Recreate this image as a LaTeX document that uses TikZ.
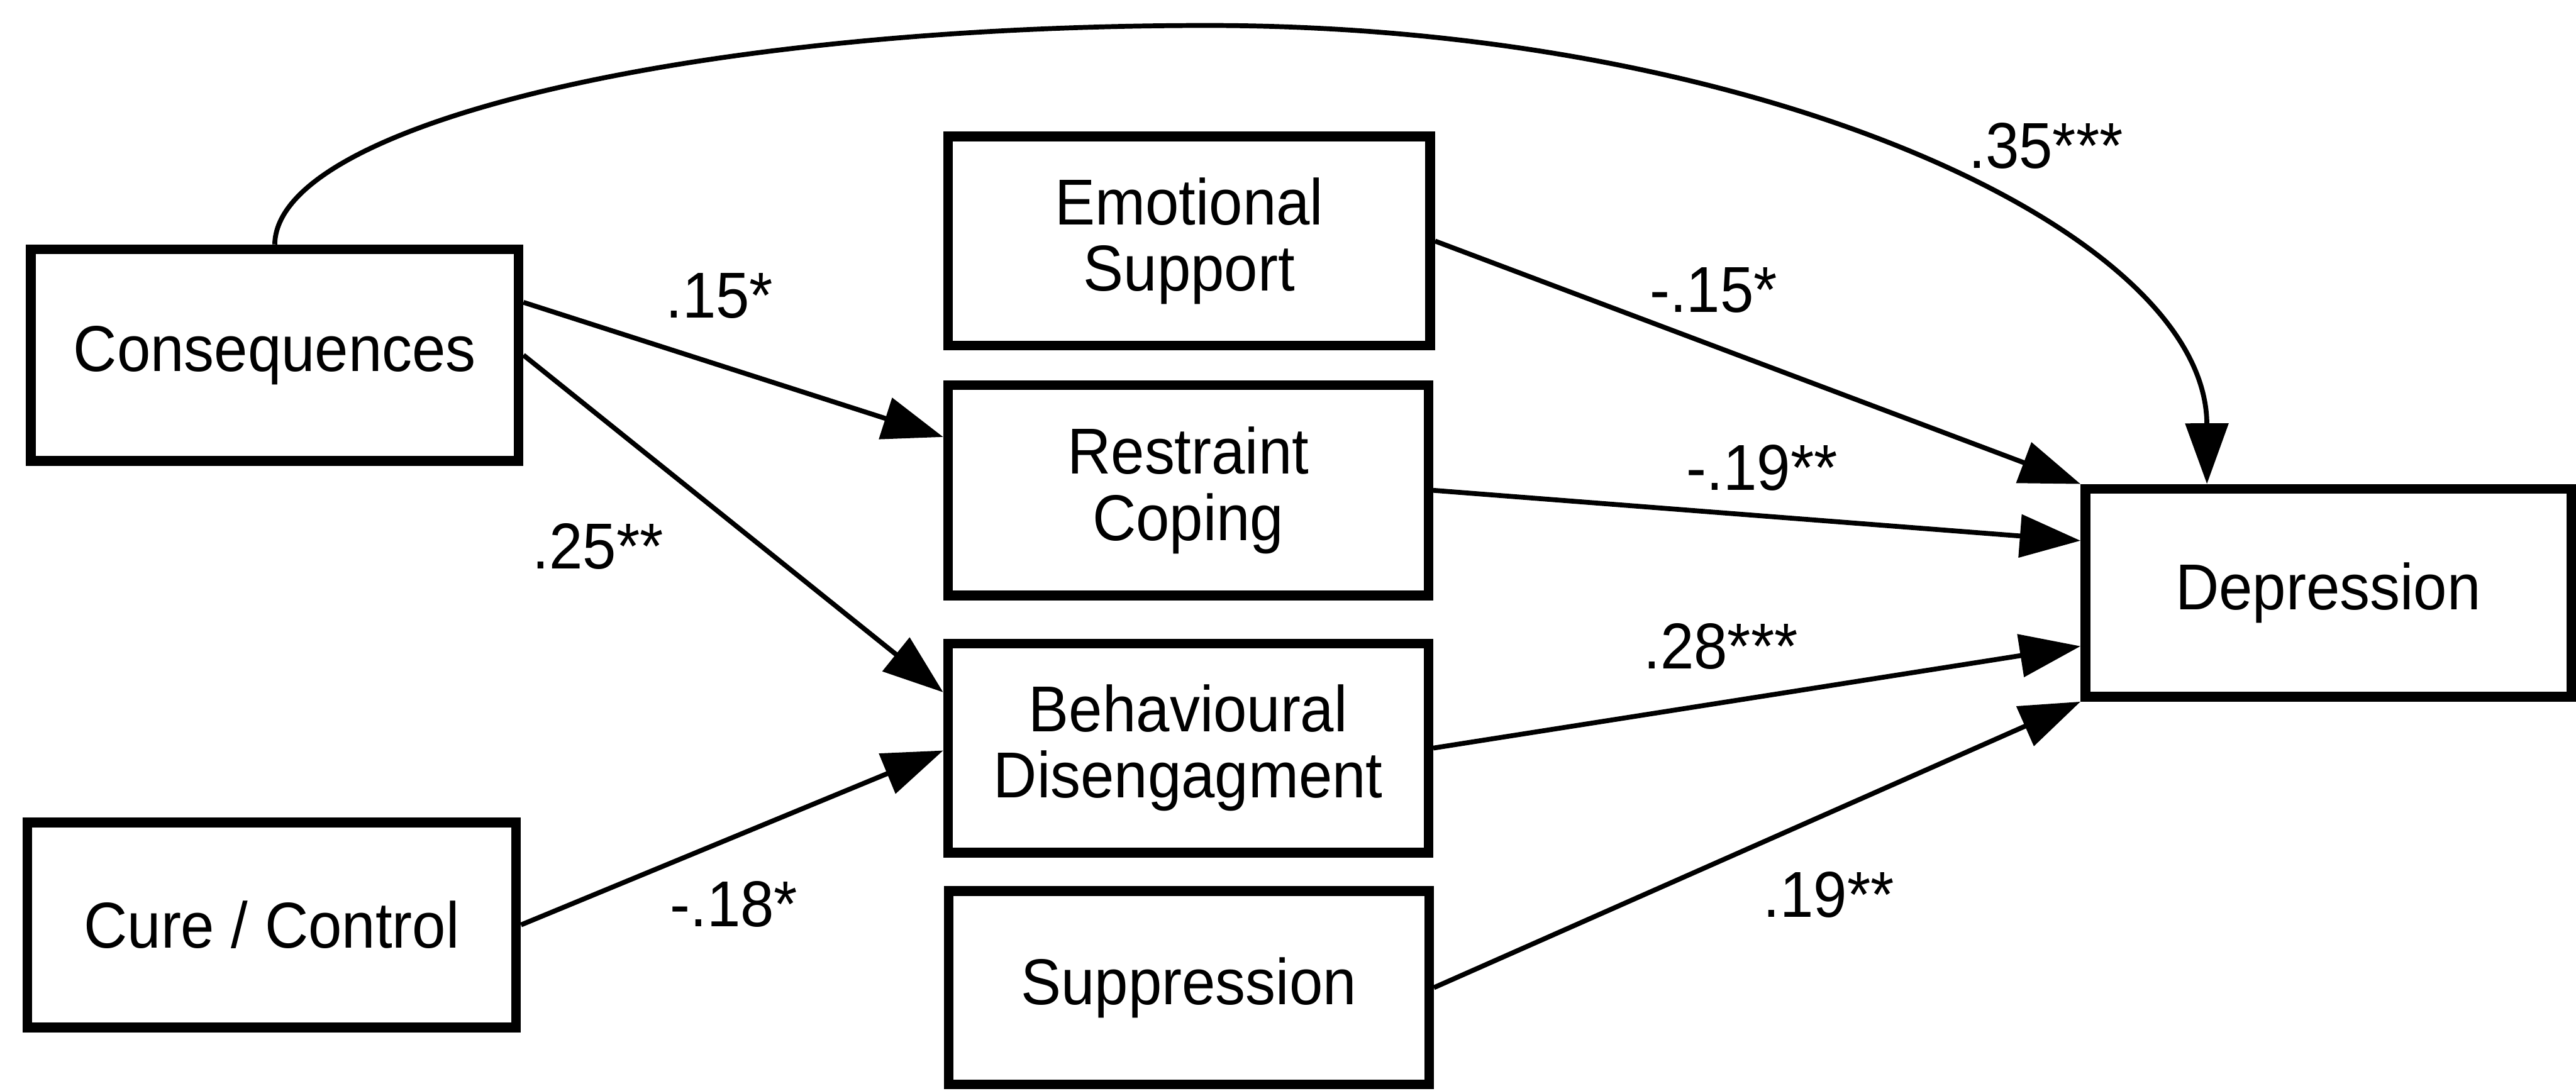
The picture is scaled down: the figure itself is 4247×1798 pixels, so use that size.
\documentclass[tikz,border=0pt]{standalone}
\usepackage{fontspec}
\setmainfont{Liberation Sans}[FakeStretch=0.93]
\usetikzlibrary{arrows.meta}

\begin{document}
\begin{tikzpicture}[
    x=0.1pt, y=-0.1pt,
    font=\fontsize{10.7}{10.9}\selectfont,
    box/.style={draw, line width=1.6pt, inner sep=0pt, align=center,
                minimum width=#1},
    box/.default=79.4pt,
    path/.style={line width=0.8pt, -{Triangle[length=10pt,width=7pt]}},
    coef/.style={inner sep=0pt, anchor=center}
  ]
  \useasboundingbox (0,0) rectangle (4247,1798);

  % predictors
  \node[box=80.4pt, minimum height=34.9pt] (cons) at (453,585.5) {Consequences};
  \node[box=80.6pt, minimum height=33.8pt] (cure) at (448,1525) {Cure / Control};

  % coping strategies
  \node[box=79.5pt, minimum height=34.5pt] (emo)   at (1960.5,397.5) {Emotional\\Support};
  \node[box=79.2pt, minimum height=34.7pt] (restr) at (1959,808.5)   {Restraint\\Coping};
  \node[box=79.2pt, minimum height=34.5pt] (behav) at (1959,1233.5)  {Behavioural\\Disengagment};
  \node[box=79.2pt, minimum height=31.9pt] (supp)  at (1960,1628.5)  {Suppression};

  % outcome
  \node[box=80.1pt, minimum height=34.3pt] (dep) at (3838.5,977.5) {Depression};

  % paths from illness perceptions to coping
  \draw[path] ([yshift=8.7pt]cons.east) -- ([yshift=8.8pt]restr.west);
  \draw[path] (cons.east) -- ([yshift=9.2pt]behav.west);
  \draw[path] (cure.east) -- ([yshift=-0.4pt]behav.west);

  % paths from coping to depression
  \draw[path] (emo.east) -- (dep.north west);
  \draw[path] (restr.east) -- ([yshift=8.6pt]dep.west);
  \draw[path] (behav.east) -- ([yshift=-8.8pt]dep.west);
  \draw[path] (supp.east) -- (dep.south west);

  % direct path
  \draw[path] (cons.north) .. controls (456,204) and (1144,42) .. (1991,42)
              .. controls (2900,42) and (3638,382) .. ([xshift=-20pt]dep.north);

  % coefficients
  \node[coef] (c1) at (1186,488)  {.15*};
  \node[coef] (c2) at (986,901)   {.25**};
  \node[coef] (c3) at (1210,1491) {-.18*};
  \node[coef] (c4) at (3373,241)  {.35***};
  \node[coef] (c5) at (2825,478)  {-.15*};
  \node[coef] (c6) at (2905,771)  {-.19**};
  \node[coef] (c7) at (2837,1066) {.28***};
  \node[coef] (c8) at (3015,1475) {.19**};
\end{tikzpicture}
\end{document}
